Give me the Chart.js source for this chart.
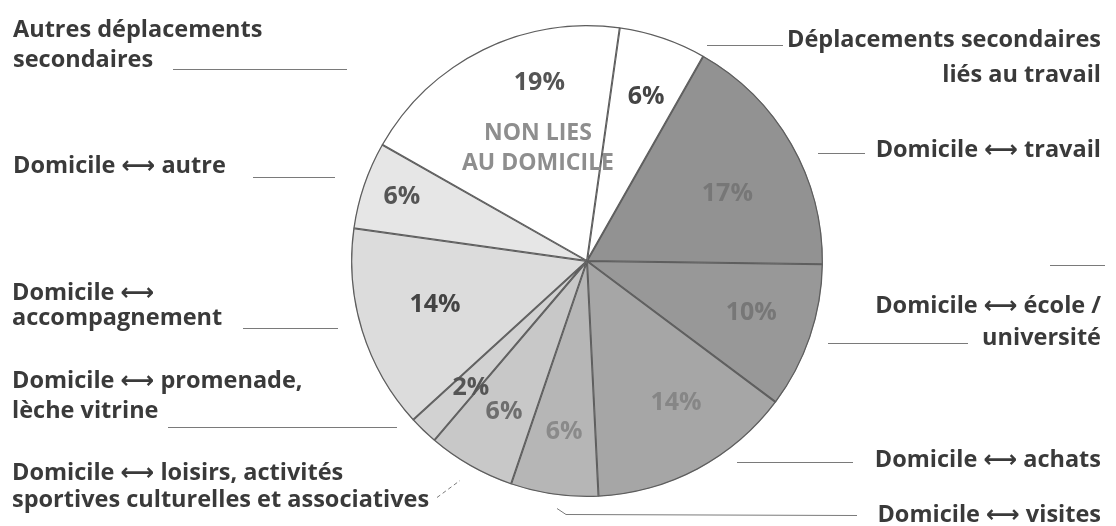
<!DOCTYPE html>
<html>
<head>
<meta charset="utf-8">
<script src="https://cdn.jsdelivr.net/npm/chart.js@4/dist/chart.umd.min.js"></script>
<style>
  html, body { margin: 0; padding: 0; background: #ffffff; }
  #wrap { position: relative; width: 1116px; height: 526px; }
</style>
</head>
<body>
<div id="wrap"><canvas id="c" width="1116" height="526"></canvas></div>
<script>
// ---- Data (clockwise from the top) ----
const categories = [
  "Déplacements secondaires liés au travail",
  "Domicile ⟷ travail",
  "Domicile ⟷ école / université",
  "Domicile ⟷ achats",
  "Domicile ⟷ visites",
  "Domicile ⟷ loisirs, activités sportives culturelles et associatives",
  "Domicile ⟷ promenade, lèche vitrine",
  "Domicile ⟷ accompagnement",
  "Domicile ⟷ autre",
  "Autres déplacements secondaires"
];
const values = [6, 17, 10, 14, 6, 6, 2, 14, 6, 19];
const innerNote = ["NON LIES", "AU DOMICILE"];

// ---- Styles ----
const sliceColors = ["#ffffff", "#929292", "#989898", "#a6a6a6", "#b6b6b6",
                     "#c8c8c8", "#d2d2d2", "#dcdcdc", "#e6e6e6", "#ffffff"];
const pctColors = ["#454545", "#777777", "#777777", "#868686", "#8a8a8a",
                   "#6e6e6e", "#555555", "#444444", "#555555", "#555555"];
// polar placement of the % labels: [angle from top in degrees, fraction of radius]
const pctPlace = [[19.8, 0.74], [64.3, 0.66], [107.6, 0.73], [147.9, 0.71], [187.6, 0.73],
                  [208.8, 0.73], [222.4, 0.73], [254, 0.67], [289, 0.83], [345, 0.78]];

// outside labels: lines with baselines, alignment, and leader lines
const outsideLabels = [
  { lines: ["Déplacements secondaires", "liés au travail"], x: 1101, ys: [47, 82], align: "right",
    leader: [[707, 45], [783, 45]] },
  { lines: ["Domicile ⟷ travail"], x: 1101, ys: [157], align: "right",
    leader: [[818, 153], [865, 153]] },
  { lines: ["Domicile ⟷ école /", "université"], x: 1101, ys: [313, 345], align: "right",
    leader: [[828, 343], [968, 343]] },
  { lines: ["Domicile ⟷ achats"], x: 1101, ys: [467], align: "right",
    leader: [[737, 462], [853, 462]] },
  { lines: ["Domicile ⟷ visites"], x: 1101, ys: [522], align: "right",
    leader: [[557, 508], [566, 514], [857, 515]] },
  { lines: ["Domicile ⟷ loisirs, activités", "sportives culturelles et associatives"], x: 12, ys: [480, 507], align: "left",
    leader: [[437, 497], [460, 480]], dashed: true },
  { lines: ["Domicile ⟷ promenade,", "lèche vitrine"], x: 12, ys: [388, 418], align: "left",
    leader: [[168, 427], [397, 427]] },
  { lines: ["Domicile ⟷", "accompagnement"], x: 12, ys: [300, 325], align: "left",
    leader: [[243, 328], [338, 328]] },
  { lines: ["Domicile ⟷ autre"], x: 13, ys: [173], align: "left",
    leader: [[253, 177], [335, 177]] },
  { lines: ["Autres déplacements", "secondaires"], x: 13, ys: [37, 67], align: "left",
    leader: [[173, 69], [347, 69]] }
];
const strayLeader = [[1050, 265], [1105, 265]];

const labelFont = "bold 23.5px 'Open Sans', 'DejaVu Sans', sans-serif";
const pctFont = "bold 25px 'Open Sans', 'DejaVu Sans', sans-serif";
const noteFont = "bold 23px 'Open Sans', 'DejaVu Sans', sans-serif";

const annotate = {
  id: "annotate",
  afterDatasetsDraw(chart) {
    const ctx = chart.ctx;
    const meta = chart.getDatasetMeta(0);
    const arc0 = meta.data[0];
    const cx = arc0.x, cy = arc0.y, R = arc0.outerRadius;
    ctx.save();
    // percentage labels
    ctx.font = pctFont;
    ctx.textAlign = "center";
    ctx.textBaseline = "middle";
    values.forEach((v, i) => {
      const [deg, f] = pctPlace[i];
      const a = deg * Math.PI / 180;
      ctx.fillStyle = pctColors[i];
      ctx.fillText(v + "%", cx + Math.sin(a) * R * f, cy - Math.cos(a) * R * f);
    });
    // inner note
    ctx.font = noteFont;
    ctx.fillStyle = "#8e8e8e";
    ctx.fillText(innerNote[0], cx - 49, cy - 128);
    ctx.fillText(innerNote[1], cx - 49, cy - 98);
    // outside labels
    ctx.font = labelFont;
    ctx.textBaseline = "alphabetic";
    ctx.fillStyle = "#3a3a3a";
    outsideLabels.forEach(l => {
      ctx.textAlign = l.align;
      l.lines.forEach((t, k) => ctx.fillText(t, l.x, l.ys[k]));
    });
    // leader lines
    ctx.strokeStyle = "#7a7a7a";
    ctx.lineWidth = 1;
    const poly = (pts, dashed) => {
      ctx.setLineDash(dashed ? [4, 3] : []);
      ctx.beginPath();
      pts.forEach((p, k) => k ? ctx.lineTo(p[0], p[1] + 0.5) : ctx.moveTo(p[0], p[1] + 0.5));
      ctx.stroke();
    };
    outsideLabels.forEach(l => poly(l.leader, l.dashed));
    poly(strayLeader, false);
    ctx.restore();
  }
};

new Chart(document.getElementById("c"), {
  type: "pie",
  data: {
    labels: categories,
    datasets: [{
      data: values,
      backgroundColor: sliceColors,
      borderColor: "#5e5e5e",
      borderWidth: 1,
      borderAlign: "inner"
    }]
  },
  options: {
    responsive: false,
    animation: false,
    rotation: 8,
    layout: { padding: { left: 351, right: 293, top: 25, bottom: 29 } },
    plugins: { legend: { display: false }, tooltip: { enabled: false } }
  },
  plugins: [annotate]
});
</script>
</body>
</html>
